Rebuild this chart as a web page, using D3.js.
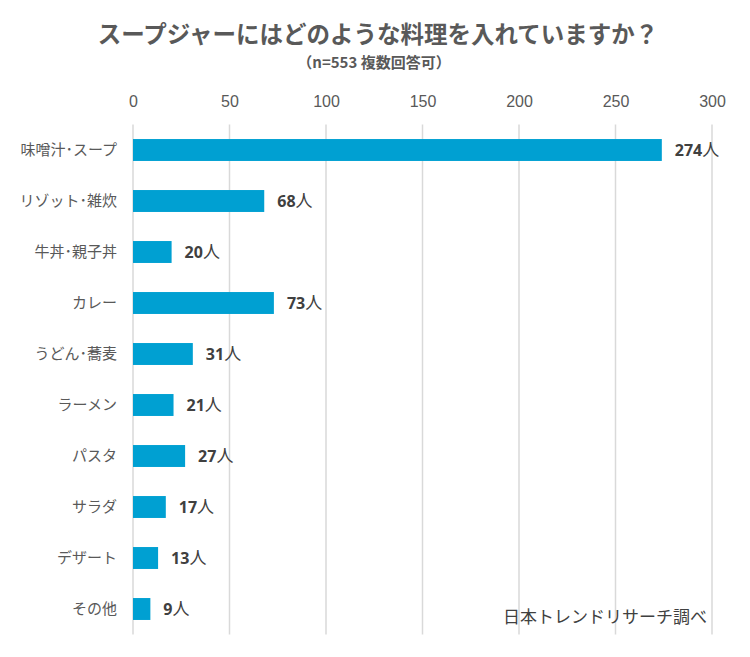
<!DOCTYPE html>
<html><head><meta charset="utf-8">
<script src="https://cdn.jsdelivr.net/npm/d3@7/dist/d3.min.js"></script>
<style>body{margin:0;background:#fff}</style>
</head><body>
<svg id="c" width="750" height="657"></svg>
<script>
const categories = ["味噌汁･スープ","リゾット･雑炊","牛丼･親子丼","カレー","うどん･蕎麦","ラーメン","パスタ","サラダ","デザート","その他"];
const values = [274,68,20,73,31,21,27,17,13,9];
const ticks = [0,50,100,150,200,250,300];
const title = "スープジャーにはどのような料理を入れていますか？";
const subtitle = "（n=553 複数回答可）";
const source = "日本トレンドリサーチ調べ";
const unit = "人";

const svg = d3.select("#c");
const jp = "'Noto Sans CJK JP','Noto Sans',sans-serif";
const x = d3.scaleLinear().domain([0,300]).range([133,712]);
const y = d3.scaleBand().domain(categories).range([124.5,634.5]).paddingInner(0.57).paddingOuter(0.285);

svg.append("text").attr("x",378).attr("y",43).attr("text-anchor","middle")
  .attr("font-family",jp).attr("font-size",23.5).attr("font-weight","bold").attr("fill","#595959").text(title);
svg.append("text").attr("x",374).attr("y",68).attr("text-anchor","middle")
  .attr("font-family",jp).attr("font-size",15).attr("font-weight","bold").attr("fill","#595959").text(subtitle);

// grid
svg.append("g").selectAll("line").data(ticks).join("line")
  .attr("x1",d=>x(d)).attr("x2",d=>x(d)).attr("y1",124.5).attr("y2",634.5)
  .attr("stroke","#d9d9d9").attr("stroke-width",1.5);

// top axis
const ax = svg.append("g").attr("transform","translate(0,112)")
  .call(d3.axisTop(x).tickValues(ticks).tickSize(0).tickPadding(5));
ax.select(".domain").remove();
ax.selectAll("text").attr("font-family","'Liberation Sans Narrow','Liberation Sans',Arial,sans-serif")
  .attr("font-size",16).attr("fill","#595959");

// category axis
const ay = svg.append("g").attr("transform","translate(133,0)")
  .call(d3.axisLeft(y).tickSize(0).tickPadding(16));
ay.select(".domain").remove();
ay.selectAll("text").attr("font-family",jp).attr("font-size",15).attr("fill","#595959");

const data = categories.map((c,i)=>({c,v:values[i]}));
svg.append("g").selectAll("rect").data(data).join("rect")
  .attr("x",x(0)).attr("y",d=>y(d.c)).attr("width",d=>x(d.v)-x(0)).attr("height",y.bandwidth())
  .attr("fill","#00a0d2");

const lab = svg.append("g").selectAll("text").data(data).join("text")
  .attr("x",d=>x(d.v)+13).attr("y",d=>y(d.c)+y.bandwidth()/2).attr("dy","0.36em")
  .attr("font-family",jp).attr("fill","#404040").attr("font-size",16);
lab.append("tspan").attr("font-weight","bold").attr("font-family","'Open Sans','Liberation Sans',sans-serif").text(d=>d.v);
lab.append("tspan").attr("font-size",17).text(unit);

svg.append("text").attr("x",707).attr("y",623).attr("text-anchor","end")
  .attr("font-family",jp).attr("font-size",17).attr("fill","#404040").text(source);
</script>
</body></html>
